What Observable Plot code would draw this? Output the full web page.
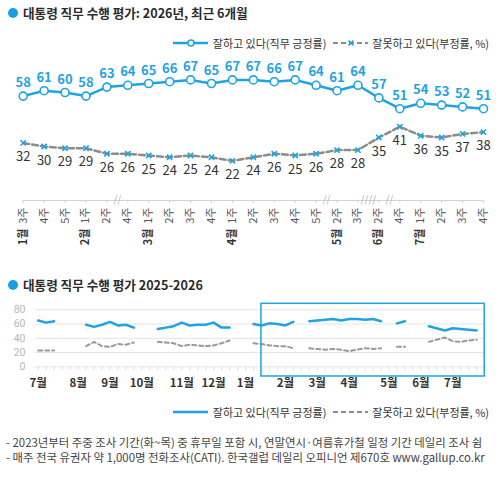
<!DOCTYPE html>
<html><head><meta charset="utf-8">
<script src="https://cdn.jsdelivr.net/npm/d3@7"></script>
<script src="https://cdn.jsdelivr.net/npm/@observablehq/plot@0.6"></script>
<style>
body{margin:0;background:#fff;font-family:"Noto Sans CJK KR","Noto Sans",sans-serif;}
#wrap{position:relative;width:502px;height:480px;overflow:hidden;background:#fff;}
.title{position:absolute;left:23px;font-size:12.6px;font-weight:bold;color:#2a2a2a;white-space:nowrap;line-height:18px;}
.dot{position:absolute;width:10px;height:10px;border-radius:50%;background:#1a9de3;}
.legend{position:absolute;right:13px;font-size:11px;color:#333;white-space:nowrap;display:flex;align-items:center;height:14px;}
.legend svg{display:block;}
.note{position:absolute;left:6px;font-size:11.4px;color:#444;white-space:nowrap;line-height:14px;}
.chart{position:absolute;left:0;}
</style></head>
<body><div id="wrap">
<div class="dot" style="left:8px;top:8px"></div>
<div class="title" style="top:4px">대통령 직무 수행 평가: 2026년, 최근 6개월</div>
<div class="legend" id="leg1" style="top:36px"></div>
<div class="chart" id="top" style="top:51px"></div>
<div class="dot" style="left:8px;top:280px"></div>
<div class="title" style="top:276px">대통령 직무 수행 평가 2025-2026</div>
<div class="chart" id="bottom" style="top:295px"></div>
<div class="legend" id="leg2" style="top:405px"></div>
<div class="note" style="top:435px">- 2023년부터 주중 조사 기간(화~목) 중 휴무일 포함 시, 연말연시·여름휴가철 일정 기간 데일리 조사 쉼</div>
<div class="note" style="top:450px">- 매주 전국 유권자 약 1,000명 전화조사(CATI). 한국갤럽 데일리 오피니언 제670호 www.gallup.co.kr</div>
</div>
<script>
const BLUE = "#1fa3e3";
const FONT = "'Noto Sans CJK KR','Noto Sans',sans-serif";

// ---- Top chart: last 6 months (weekly) ----
const topWeeks = ["3주","4주","5주","1주","2주","4주","1주","2주","3주","4주","1주","2주","3주","4주","5주","2주","3주","2주","4주","1주","2주","3주","4주"];
const topMonths = ["1월","","","2월","","","3월","","","","4월","","","","","5월","","6월","","7월","","",""];
const approve = [58,61,60,58,63,64,65,66,67,65,67,67,66,67,64,61,64,57,51,54,53,52,51];
const disapprove = [32,30,29,29,26,26,25,24,25,24,22,24,26,25,26,28,28,35,41,36,35,37,38];
const topBreakAfter = [4, 14, 16, 17];
const topBreakMarks = ["//", "//", "////", "//"];

// ---- Bottom chart: 2025-2026 (week index from 2025 July week 1; null = break) ----
const bWeek = [0,1,2,3, 6,7,8,9,10,11,12,13, 15,16,17,18,19,20,21,22,23,24,25, 27,28,29,30,31,32,33, 34,35,36,37,38,39,40,41,42,43,44, 45,46,47, 49, 51,52,53,54,55];
const bApprove = [65,62,64,null, 59,56,59,63,58,59,55,null, 53,55,57,62,58,59,59,62,55,55,null, 60,58,61,60,58,63,null, 64,65,66,67,65,67,67,66,67,64,null, 61,64,null, 57, 51,54,53,52,51];
const bDisapprove = [23,23,23,null, 29,35,29,28,32,31,34,null, 35,34,33,29,31,30,29,30,33,37,null, 33,32,30,29,29,26,null, 26,25,24,25,24,22,24,26,25,26,null, 28,28,null, 35, 41,36,35,37,38];
const bMonthWeeks = [0,5,9,13,18,22,26,31,35,39,44,48,52];
const bMonthLabels = ["7월","8월","9월","10월","11월","12월","1월","2월","3월","4월","5월","6월","7월"];
const bTickWeeks = d3.range(0, 57);
const yTicks = [0,20,40,60,80];
const highlightWeeks = [28, 56];

const legendLabels = ["잘하고 있다(직무 긍정률)", "잘못하고 있다(부정률, %)"];

// ---- Legends ----
function legend(el, withMarkers) {
  const s1 = `<svg width="36" height="10"><line x1="0" y1="5" x2="35" y2="5" stroke="${BLUE}" stroke-width="2.5"/>` +
    (withMarkers ? `<circle cx="18" cy="5" r="3" fill="#fff" stroke="${BLUE}" stroke-width="1.5"/>` : "") + `</svg>`;
  const s2 = `<svg width="36" height="10"><line x1="0" y1="5" x2="35" y2="5" stroke="#8c8c8c" stroke-width="2" stroke-dasharray="5,3"/>` +
    (withMarkers ? `<path d="M15.5,2.5L20.5,7.5M20.5,2.5L15.5,7.5" stroke="${BLUE}" stroke-width="1.6"/>` : "") + `</svg>`;
  el.innerHTML = s1 + `<span style="margin-left:4px">${legendLabels[0]}</span>` +
    `<span style="margin-left:7px"></span>` + s2 + `<span style="margin-left:3px">${legendLabels[1]}</span>`;
}
legend(document.getElementById("leg1"), true);
legend(document.getElementById("leg2"), false);

// ---- Top plot ----
const topRows = approve.map((a, i) => ({i, a, d: disapprove[i], w: topWeeks[i], m: topMonths[i]}));
const topBreaks = topBreakAfter.map((p, k) => ({p, mark: topBreakMarks[k]}));
const topPlot = Plot.plot({
  width: 502, height: 200,
  marginTop: 5, marginBottom: 51, marginLeft: 22.7, marginRight: 19,
  x: {domain: [0, topRows.length - 1], axis: null},
  y: {domain: [0, 80], axis: null},
  style: {fontFamily: FONT, background: "transparent", overflow: "visible"},
  marks: [
    Plot.ruleY([0], {x1: 0, x2: topRows.length - 1, stroke: "#d4d4d4"}),
    Plot.ruleX(topRows, {x: "i", y1: 0, y2: -1.6, stroke: "#cfcfcf"}),
    Plot.text(topBreaks, {x: d => d.p + 0.5, y: 0, text: "mark", fill: "#b0b0b0", fontSize: 10, dy: -1}),
    Plot.text(topRows, {x: "i", y: 0, text: "w", rotate: -90, textAnchor: "end", dy: 7, fontSize: 11, fill: "#555"}),
    Plot.text(topRows.filter(d => d.m), {x: "i", y: 0, text: "m", rotate: -90, textAnchor: "end", dy: 28, fontSize: 11, fill: "#333", fontWeight: "bold"}),
    Plot.line(topRows, {x: "i", y: "d", stroke: "#8c8c8c", strokeWidth: 2.5, strokeDasharray: "6,3"}),
    Plot.dot(topRows, {x: "i", y: "d", symbol: "times", r: 2.5, stroke: BLUE, strokeWidth: 1.6}),
    Plot.line(topRows, {x: "i", y: "a", stroke: BLUE, strokeWidth: 2.5}),
    Plot.dot(topRows, {x: "i", y: "a", r: 4, fill: "white", stroke: BLUE, strokeWidth: 1.6}),
    Plot.text(topRows, {x: "i", y: "a", text: d => String(d.a), dy: -13, fill: BLUE, fontSize: 13, fontWeight: "bold"}),
    Plot.text(topRows, {x: "i", y: "d", text: d => String(d.d), dy: 14, fill: "#333", fontSize: 13})
  ]
});
document.getElementById("top").appendChild(topPlot);

// ---- Bottom plot ----
const bRows = bWeek.map((w, k) => ({w, a: bApprove[k], d: bDisapprove[k]}));
const bottomPlot = Plot.plot({
  width: 502, height: 100,
  marginTop: 14.3, marginBottom: 28.7, marginLeft: 35, marginRight: 17,
  x: {domain: [-0.34, 56.1], axis: null},
  y: {domain: [0, 80], axis: null},
  style: {fontFamily: FONT, background: "transparent", overflow: "visible"},
  marks: [
    Plot.ruleY(yTicks, {stroke: "#e4e4e4"}),
    Plot.ruleX(bTickWeeks, {x: d => d, y1: 0, y2: -5.5, stroke: "#dcdcdc"}),
    Plot.text(yTicks, {y: d => d, text: d => String(d), frameAnchor: "left", textAnchor: "end", dx: -10, fill: "#b8b8b8", fontSize: 10.5, fontFamily: "Roboto, 'Noto Sans', sans-serif"}),
    Plot.text(bMonthWeeks, {x: d => d, y: 0, text: (d, i) => bMonthLabels[i], dy: 17, fontSize: 11.5, fill: "#333", fontWeight: "bold"}),
    Plot.line(bRows, {x: "w", y: "d", stroke: "#9a9a9a", strokeWidth: 2, strokeDasharray: "4,3"}),
    Plot.line(bRows, {x: "w", y: "a", stroke: BLUE, strokeWidth: 2.5}),
    Plot.rect([highlightWeeks], {x1: d => d[0], x2: d => d[1], y1: -13.6, y2: 88.4, fill: "none", stroke: BLUE, strokeWidth: 1.5})
  ]
});
document.getElementById("bottom").appendChild(bottomPlot);
</script>
</body></html>
